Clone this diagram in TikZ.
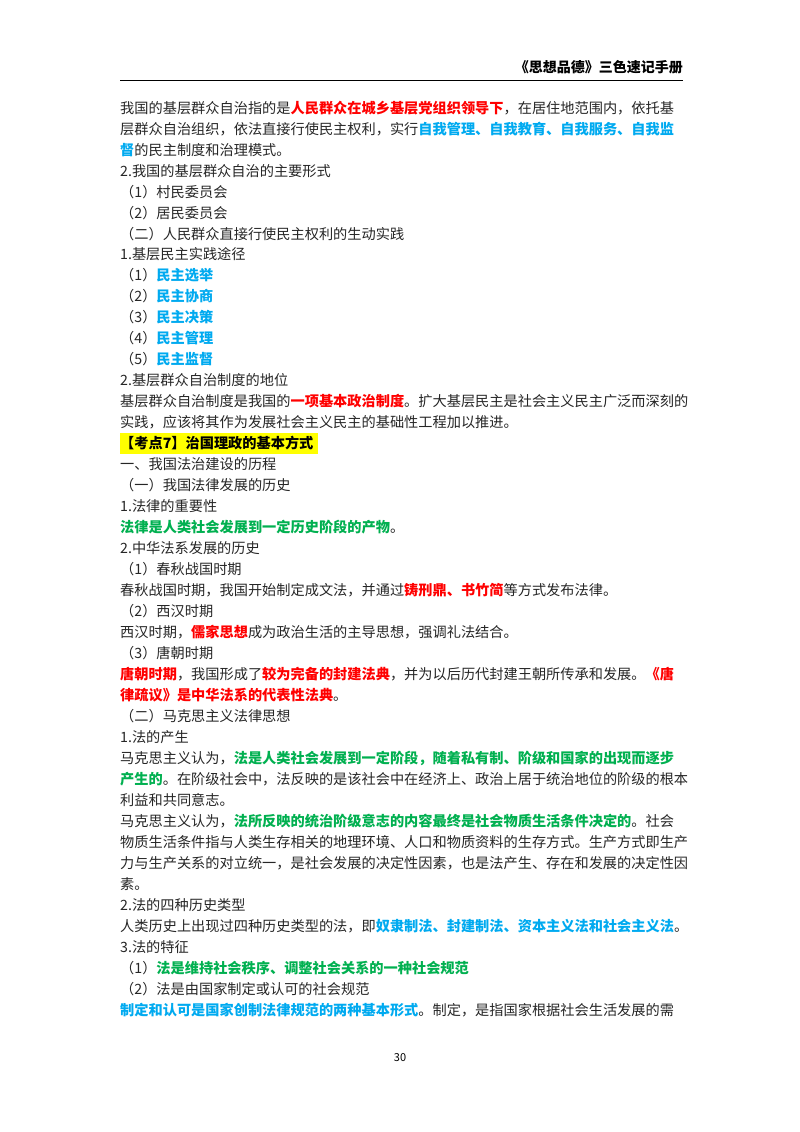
\documentclass[tikz,border=0pt]{standalone}
\usepackage{fontspec}
\setmainfont{Noto Sans CJK SC}
\definecolor{rd}{RGB}{255,0,0}
\definecolor{bl}{RGB}{0,170,240}
\definecolor{gn}{RGB}{0,176,80}
\definecolor{hy}{RGB}{255,255,0}
\newcommand{\R}[1]{\textbf{\textcolor{rd}{#1}}}
\newcommand{\B}[1]{\textbf{\textcolor{bl}{#1}}}
\newcommand{\G}[1]{\textbf{\textcolor{gn}{#1}}}
\tikzset{ln/.style={anchor=base west,inner sep=0pt,font=\fontsize{14.2pt}{16pt}\selectfont,text=black!85}}
\newcommand{\Ln}[3]{\node[ln] (#1) at (120,#2+5) {#3};}
\begin{document}
\begin{tikzpicture}[x=1pt,y=-1pt]
\useasboundingbox (0,0) rectangle (800,1132);
\fill[white] (0,0) rectangle (800,1132);
\node[anchor=base east,inner sep=0pt,font=\fontsize{14pt}{16pt}\selectfont\bfseries] (hdr) at (683,73) {《思想品德》三色速记手册};
\coordinate (hl) at (120,80); \coordinate (hr) at (683,80);
\draw[line width=0.6pt] (hl) -- (hr);
\fill[hy] (120,433) rectangle (318,454);
\Ln{l1}{108}{我国的基层群众自治指的是\R{人民群众在城乡基层党组织领导下}，在居住地范围内，依托基}
\Ln{l2}{129}{层群众自治组织，依法直接行使民主权利，实行\B{自我管理、自我教育、自我服务、自我监}}
\Ln{l3}{150}{\B{督}的民主制度和治理模式。}
\Ln{l4}{171}{2.我国的基层群众自治的主要形式}
\Ln{l5}{192}{（1）村民委员会}
\Ln{l6}{213}{（2）居民委员会}
\Ln{l7}{234}{（二）人民群众直接行使民主权利的生动实践}
\Ln{l8}{254}{1.基层民主实践途径}
\Ln{l9}{275}{（1）\B{民主选举}}
\Ln{l10}{296}{（2）\B{民主协商}}
\Ln{l11}{317}{（3）\B{民主决策}}
\Ln{l12}{338}{（4）\B{民主管理}}
\Ln{l13}{359}{（5）\B{民主监督}}
\Ln{l14}{380}{2.基层群众自治制度的地位}
\Ln{l15}{401}{基层群众自治制度是我国的\R{一项基本政治制度}。扩大基层民主是社会主义民主广泛而深刻的}
\Ln{l16}{422}{实践，应该将其作为发展社会主义民主的基础性工程加以推进。}
\Ln{l17}{443}{\textbf{\textcolor{black}{【考点7】治国理政的基本方式}}}
\Ln{l18}{464}{一、我国法治建设的历程}
\Ln{l19}{485}{（一）我国法律发展的历史}
\Ln{l20}{506}{1.法律的重要性}
\Ln{l21}{527}{\G{法律是人类社会发展到一定历史阶段的产物}。}
\Ln{l22}{548}{2.中华法系发展的历史}
\Ln{l23}{569}{（1）春秋战国时期}
\Ln{l24}{590}{春秋战国时期，我国开始制定成文法，并通过\R{铸刑鼎、书竹简}等方式发布法律。}
\Ln{l25}{611}{（2）西汉时期}
\Ln{l26}{632}{西汉时期，\R{儒家思想}成为政治生活的主导思想，强调礼法结合。}
\Ln{l27}{653}{（3）唐朝时期}
\Ln{l28}{674}{\R{唐朝时期}，我国形成了\R{较为完备的封建法典}，并为以后历代封建王朝所传承和发展。\R{《唐}}
\Ln{l29}{695}{\R{律疏议》是中华法系的代表性法典}。}
\Ln{l30}{716}{（二）马克思主义法律思想}
\Ln{l31}{737}{1.法的产生}
\Ln{l32}{758}{马克思主义认为，\G{法是人类社会发展到一定阶段，随着私有制、阶级和国家的出现而逐步}}
\Ln{l33}{779}{\G{产生的}。在阶级社会中，法反映的是该社会中在经济上、政治上居于统治地位的阶级的根本}
\Ln{l34}{800}{利益和共同意志。}
\Ln{l35}{821}{马克思主义认为，\G{法所反映的统治阶级意志的内容最终是社会物质生活条件决定的}。社会}
\Ln{l36}{842}{物质生活条件指与人类生存相关的地理环境、人口和物质资料的生存方式。生产方式即生产}
\Ln{l37}{863}{力与生产关系的对立统一，是社会发展的决定性因素，也是法产生、存在和发展的决定性因}
\Ln{l38}{884}{素。}
\Ln{l39}{905}{2.法的四种历史类型}
\Ln{l40}{926}{人类历史上出现过四种历史类型的法，即\B{奴隶制法、封建制法、资本主义法和社会主义法}。}
\Ln{l41}{947}{3.法的特征}
\Ln{l42}{968}{（1）\G{法是维持社会秩序、调整社会关系的一种社会规范}}
\Ln{l43}{989}{（2）法是由国家制定或认可的社会规范}
\Ln{l44}{1010}{\B{制定和认可是国家创制法律规范的两种基本形式}。制定，是指国家根据社会生活发展的需}
\node[anchor=base,inner sep=0pt,font=\fontsize{11pt}{13pt}\selectfont] (pg) at (400,1061) {30};
\end{tikzpicture}
\end{document}
